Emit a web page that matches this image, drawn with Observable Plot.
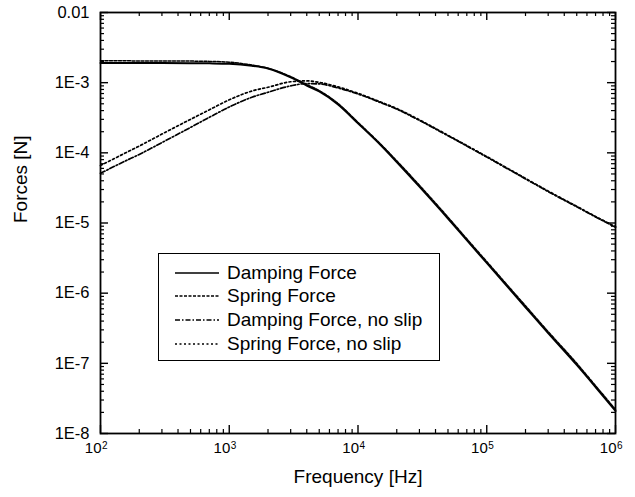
<!DOCTYPE html>
<html>
<head>
<meta charset="utf-8">
<script src="https://cdn.jsdelivr.net/npm/d3@7"></script>
<script src="https://cdn.jsdelivr.net/npm/@observablehq/plot@0.6"></script>
<style>
  body { margin: 0; background: #fff; }
  #wrap { position: relative; width: 635px; height: 497px; font-family: "Liberation Sans", Arial, sans-serif; }
  #legend { position: absolute; left: 158px; top: 253px; width: 282px; height: 108px; border: 1.6px solid #000; box-sizing: border-box; background: #fff; }
  .row { position: absolute; left: 0; height: 24px; display: flex; align-items: center; font-size: 19px; color: #000; white-space: nowrap; }
  .row svg { margin-left: 16px; margin-right: 8px; }
</style>
</head>
<body>
<div id="wrap"></div>
<script>
// ---- data ----
const freq = [100, 150, 200, 300, 500, 700, 1000, 1500, 2000, 3000, 4000, 5000, 7000,
  1e4, 1.5e4, 2e4, 3e4, 5e4, 7e4, 1e5, 2e5, 3e5, 5e5, 7e5, 1e6];
const damping = [1.9e-3, 1.9e-3, 1.9e-3, 1.9e-3, 1.895e-3, 1.885e-3, 1.86e-3, 1.74e-3, 1.59e-3, 1.19e-3, 9.1e-4, 7.5e-4, 4.9e-4,
  2.64e-4, 1.29e-4, 7.4e-5, 3.3e-5, 1.16e-5, 5.7e-6, 2.7e-6, 6.3e-7, 2.7e-7, 9.5e-8, 4.6e-8, 2.1e-8];
const spring = [2.05e-3, 2.05e-3, 2.04e-3, 2.04e-3, 2.03e-3, 2.01e-3, 1.96e-3, 1.78e-3, 1.6e-3, 1.22e-3, 9.4e-4, 7.7e-4, 5.05e-4,
  2.72e-4, 1.33e-4, 7.7e-5, 3.45e-5, 1.21e-5, 5.95e-6, 2.82e-6, 6.6e-7, 2.83e-7, 1.0e-7, 4.8e-8, 2.2e-8];
const dampingNoSlip = [5.1e-5, 7.4e-5, 9.5e-5, 1.4e-4, 2.3e-4, 3.2e-4, 4.5e-4, 6.2e-4, 7.3e-4, 9.0e-4, 9.7e-4, 9.6e-4, 8.4e-4,
  6.9e-4, 5.2e-4, 4.2e-4, 2.9e-4, 1.75e-4, 1.25e-4, 8.7e-5, 4.25e-5, 2.8e-5, 1.7e-5, 1.22e-5, 8.7e-6];
const springNoSlip = [6.6e-5, 9.6e-5, 1.25e-4, 1.85e-4, 3.0e-4, 4.1e-4, 5.7e-4, 7.6e-4, 8.6e-4, 1.03e-3, 1.06e-3, 1.01e-3, 8.7e-4,
  7.05e-4, 5.3e-4, 4.28e-4, 2.95e-4, 1.78e-4, 1.27e-4, 8.85e-5, 4.32e-5, 2.85e-5, 1.73e-5, 1.24e-5, 8.85e-6];

const seriesNames = ["Damping Force", "Spring Force", "Damping Force, no slip", "Spring Force, no slip"];
const seriesValues = [damping, spring, dampingNoSlip, springNoSlip];
const seriesDash = [null, "3,1.5", "5,2,1.5,2", "2,2.5"];
const seriesWidth = [2, 1.5, 1.7, 1.7];

const xMajor = [1e2, 1e3, 1e4, 1e5, 1e6];
const xExp = ["2", "3", "4", "5", "6"];
const yMajor = [1e-2, 1e-3, 1e-4, 1e-5, 1e-6, 1e-7, 1e-8];
const yLabels = ["0.01", "1E-3", "1E-4", "1E-5", "1E-6", "1E-7", "1E-8"];
const xLabel = "Frequency [Hz]";
const yLabel = "Forces [N]";

// minor ticks from the log scale's own tick generator
const xMinor = d3.scaleLog().domain([1e2, 1e6]).ticks().filter(d => !xMajor.includes(d));
const yMinor = d3.scaleLog().domain([1e-8, 1e-2]).ticks().filter(d => !yMajor.some(m => Math.abs(m - d) / m < 1e-9));

const W = 635, H = 497, mL = 100, mR = 20, mT = 12, mB = 64;
const fw = W - mL - mR, fh = H - mT - mB;
const majorLen = 8, minorLen = 4;

const rows = [];
seriesValues.forEach((vals, s) => freq.forEach((f, i) => rows.push({f, v: vals[i], s})));

const lineMarks = seriesValues.map((vals, s) =>
  Plot.line(rows.filter(r => r.s === s), {
    x: "f", y: "v", stroke: "#000", strokeWidth: seriesWidth[s],
    strokeDasharray: seriesDash[s], curve: "monotone-x"
  })
);

const chart = Plot.plot({
  width: W, height: H,
  marginLeft: mL, marginRight: mR, marginTop: mT, marginBottom: mB,
  style: {fontFamily: "Liberation Sans, Arial, sans-serif", background: "#fff", color: "#000"},
  x: {type: "log", domain: [1e2, 1e6], axis: null},
  y: {type: "log", domain: [1e-8, 1e-2], axis: null},
  marks: [
    ...lineMarks,
    // inward ticks: bottom & top
    Plot.tickX(xMajor, {x: d => d, insetTop: fh - majorLen, stroke: "#000", strokeWidth: 1.4}),
    Plot.tickX(xMinor, {x: d => d, insetTop: fh - minorLen, stroke: "#000", strokeWidth: 1.2}),
    Plot.tickX(xMajor, {x: d => d, insetBottom: fh - majorLen, stroke: "#000", strokeWidth: 1.4}),
    Plot.tickX(xMinor, {x: d => d, insetBottom: fh - minorLen, stroke: "#000", strokeWidth: 1.2}),
    // inward ticks: left & right
    Plot.tickY(yMajor, {y: d => d, insetRight: fw - majorLen, stroke: "#000", strokeWidth: 1.4}),
    Plot.tickY(yMinor, {y: d => d, insetRight: fw - minorLen, stroke: "#000", strokeWidth: 1.2}),
    Plot.tickY(yMajor, {y: d => d, insetLeft: fw - majorLen, stroke: "#000", strokeWidth: 1.4}),
    Plot.tickY(yMinor, {y: d => d, insetLeft: fw - minorLen, stroke: "#000", strokeWidth: 1.2}),
    Plot.frame({stroke: "#000", strokeWidth: 1.8}),
    // y tick labels
    Plot.text(yMajor, {y: d => d, frameAnchor: "left", dx: -11, textAnchor: "end",
      text: (d, i) => yLabels[i], fontSize: 16.5, fill: "#000"}),
    // x tick labels: "10" + superscript
    Plot.text(xMajor, {x: d => d, frameAnchor: "bottom", dy: 19, dx: 1, textAnchor: "end",
      text: () => "10", fontSize: 15, fill: "#000"}),
    Plot.text(xMajor, {x: d => d, frameAnchor: "bottom", dy: 15, dx: 1.5, textAnchor: "start",
      text: (d, i) => xExp[i], fontSize: 10, fill: "#000"}),
    // axis titles
    Plot.text([xLabel], {frameAnchor: "bottom", dy: 49, text: d => d, fontSize: 19, fill: "#000"}),
    Plot.text([yLabel], {frameAnchor: "left", dx: -80, rotate: -90, text: d => d, fontSize: 19, fill: "#000"})
  ]
});

const wrap = document.getElementById("wrap");
wrap.appendChild(chart);

// legend
const legend = document.createElement("div");
legend.id = "legend";
const rowTops = [6.5, 30, 54, 77.5];
seriesNames.forEach((name, s) => {
  const r = document.createElement("div");
  r.className = "row";
  r.style.top = rowTops[s] + "px";
  const ns = "http://www.w3.org/2000/svg";
  const svg = document.createElementNS(ns, "svg");
  svg.setAttribute("width", 44); svg.setAttribute("height", 6);
  const ln = document.createElementNS(ns, "line");
  ln.setAttribute("x1", 0); ln.setAttribute("x2", 44);
  ln.setAttribute("y1", 3); ln.setAttribute("y2", 3);
  ln.setAttribute("stroke", "#000");
  ln.setAttribute("stroke-width", s === 0 ? 1.6 : 1.3);
  if (seriesDash[s]) ln.setAttribute("stroke-dasharray", seriesDash[s]);
  svg.appendChild(ln);
  r.appendChild(svg);
  const t = document.createElement("span");
  t.textContent = name;
  r.appendChild(t);
  legend.appendChild(r);
});
wrap.appendChild(legend);
</script>
</body>
</html>
